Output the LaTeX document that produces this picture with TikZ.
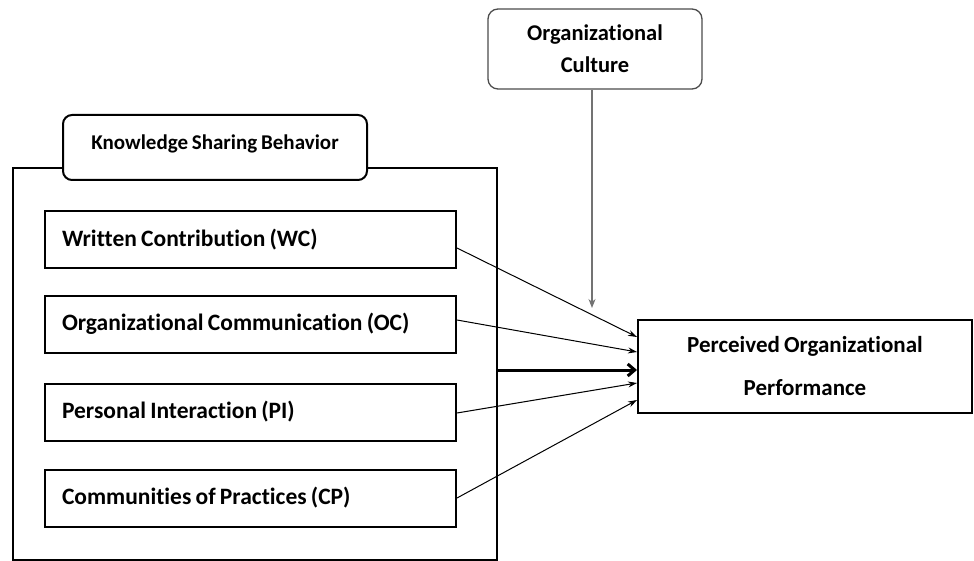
\documentclass[tikz,border=0pt]{standalone}
\usepackage{fontspec}
\setmainfont{Carlito}[Ligatures=NoCommon,WordSpace=0.8]
\usetikzlibrary{arrows.meta,positioning,calc}
\tikzset{
  every picture/.style={line width=2pt},
  sdim/.style={draw, rectangle, minimum width=411pt, minimum height=57pt,
                text width=377pt, align=flush left, inner sep=0pt,
                font=\bfseries\fontsize{23.5}{26}\selectfont},
  sframe/.style={draw, rectangle, minimum width=484pt, minimum height=392pt},
  stitle/.style={draw, fill=white, rounded corners=9pt, minimum width=304pt,
                 minimum height=65pt, text depth=10pt,
                 font=\bfseries\fontsize{21}{24}\selectfont},
  smod/.style={draw=black!70, line width=1.3pt, rounded corners=10pt,
               minimum width=214pt, minimum height=80pt, align=center,
               font=\bfseries\fontsize{22.5}{32}\selectfont},
  sout/.style={draw, rectangle, minimum width=334pt, minimum height=93pt,
               align=center, font=\bfseries\fontsize{23}{43}\selectfont},
  sarr/.style={line width=1pt, -{Stealth[length=9pt,width=6pt]}},
  sarrbold/.style={line width=3pt, -{Straight Barb[length=7pt,width=12pt]}},
  sarrmod/.style={draw=black!55, line width=1.3pt, -{Stealth[length=9pt,width=7pt,fill=black]}},
}

\begin{document}
\begin{tikzpicture}[x=1pt,y=-1pt]
\useasboundingbox (0,0) rectangle (974,561);
\clip (0,0) rectangle (974,561);
% knowledge sharing behaviour block
\node[sframe] (ksb) at (255,364) {};
\node[stitle] (ksbtitle) at (215,147.5) {Knowledge Sharing Behavior};
\node[sdim] (wc) at (250.5,240) {Written Contribution (WC)};
\node[sdim] (oc) at (250.5,324) {Organizational Communication (OC)};
\node[sdim] (pi) at (250.5,412) {Personal Interaction (PI)};
\node[sdim] (cp) at (250.5,498) {Communities of Practices (CP)};
% moderator and outcome
\node[smod] (cult) at (595,49) {Organizational\\Culture};
\node[sout] (pop) at (805,366.5) {Perceived Organizational\\Performance};
\coordinate (culttip) at (592,308);
\draw[sarrmod] ([xshift=-3pt]cult.south) -- (culttip);
\draw[sarr] ([yshift=-8pt]wc.east) -- ([yshift=29.5pt]pop.west);
\draw[sarr] ([yshift=4pt]oc.east) -- ([yshift=14.5pt]pop.west);
\draw[sarrbold] ([yshift=-6pt]ksb.east) -- ([yshift=-3.5pt]pop.west);
\draw[sarr] ([yshift=-1pt]pi.east) -- ([yshift=-16.5pt]pop.west);
\draw[sarr] (cp.east) -- ([yshift=-33.5pt]pop.west);
\end{tikzpicture}
\end{document}
